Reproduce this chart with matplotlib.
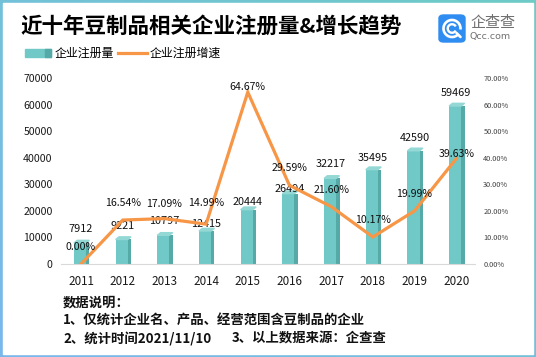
"""近十年豆制品相关企业注册量 & 增长趋势 — 柱状 + 折线双轴图"""
import matplotlib

matplotlib.use("Agg")
import matplotlib.pyplot as plt
import numpy as np
from matplotlib.patches import FancyBboxPatch, Polygon, Rectangle, Arc

plt.rcParams["font.family"] = ["Noto Sans CJK SC", "DejaVu Sans"]
plt.rcParams["axes.unicode_minus"] = False

# ---- 数据 ----
years = ["2011", "2012", "2013", "2014", "2015", "2016", "2017", "2018", "2019", "2020"]
registrations = [7912, 9221, 10797, 12415, 20444, 26494, 32217, 35495, 42590, 59469]
growth_pct = [0.00, 16.54, 17.09, 14.99, 64.67, 29.59, 21.60, 10.17, 19.99, 39.63]

# 标签相对位置（像素，向上）
bar_label_off = [14, 13, 14, 7, 8, 5, 14, 12, 13, 13]
pct_label_off = [17, 17, 15, 21, 5, 17, 17, 17, 17, 5]

BAR_FRONT = "#70c9c6"
BAR_SIDE = "#55a9a6"
BAR_TOP = "#93d8d5"
LINE = "#f79646"

W, H = 536, 357
fig = plt.figure(figsize=(W / 100, H / 100), dpi=100)

# 渐变边框
bg = fig.add_axes([0, 0, 1, 1])
bg.set_axis_off()
gx, gy = np.meshgrid(np.linspace(0, 1, 64), np.linspace(0, 1, 64))
t = np.clip((gx + gy) / 2, 0, 1)
c0 = np.array([0x7a, 0xb8, 0xec]) / 255  # 左下 蓝
c1 = np.array([0x6d, 0xcb, 0xc6]) / 255  # 右上 青
grad = c0[None, None, :] * (1 - t[..., None]) + c1[None, None, :] * t[..., None]
bg.imshow(grad, extent=[0, 1, 0, 1], origin="lower", aspect="auto")
bx, by = 3 / W, 3 / H
bg.add_patch(Rectangle((bx, by), 1 - 2 * bx, 1 - 2 * by, color="white", zorder=2))
bg.set_xlim(0, 1)
bg.set_ylim(0, 1)

# 主图
ax = fig.add_axes([61 / W, 93 / H, 414 / W, 186 / H])
ax.set_facecolor("none")
x = np.arange(len(years))
front_w = 0.29
side_w = 0.08
front_l = x - 0.17
ax.bar(front_l, registrations, width=front_w, align="edge", color=BAR_FRONT, zorder=2)
ax.bar(front_l + front_w, registrations, width=side_w, align="edge", color=BAR_SIDE, zorder=2)
depth = 1000
for xi, v in zip(front_l, registrations):
    ax.add_patch(Polygon(
        [(xi, v), (xi + front_w, v), (xi + front_w + side_w, v + depth), (xi + side_w, v + depth)],
        closed=True, color=BAR_TOP, zorder=2,
    ))

ax.set_ylim(0, 70000)
ax.set_xlim(-0.48, 9.45)
ax.set_yticks(np.arange(0, 70001, 10000))
ax.set_xticks(x)
ax.set_xticklabels(years)
ax.tick_params(axis="y", length=0, pad=6, labelsize=7.6, labelcolor="#1a1a1a")
ax.tick_params(axis="x", length=0, pad=8, labelsize=8.4, labelcolor="#1a1a1a")
for s in ["top", "right", "left"]:
    ax.spines[s].set_visible(False)
ax.spines["bottom"].set_color("#d9d9d9")
ax.spines["bottom"].set_linewidth(0.8)

for xi, v, off in zip(x, registrations, bar_label_off):
    ax.annotate(f"{v}", (xi, v), xytext=(0, off * 0.72), textcoords="offset points",
                ha="center", va="center", fontsize=7.8, color="#111111", zorder=5)

# 右轴 增速
ax2 = ax.twinx()
ax2.plot(x, growth_pct, color=LINE, linewidth=2.3, solid_joinstyle="miter", zorder=3)
ax2.set_ylim(0, 70)
ax2.set_yticks(np.arange(0, 71, 10))
ax2.set_yticklabels([f"{v:.2f}%" for v in np.arange(0, 71, 10)])
ax2.tick_params(axis="y", length=0, pad=6, labelsize=5.3, labelcolor="#404040")
for s in ["top", "right", "left", "bottom"]:
    ax2.spines[s].set_visible(False)
for xi, v, off in zip(x, growth_pct, pct_label_off):
    ax2.annotate(f"{v:.2f}%", (xi, v), xytext=(0, off * 0.72), textcoords="offset points",
                 ha="center", va="center", fontsize=7.6, color="#111111", zorder=5)

# 标题
fig.text(20 / W, 1 - 26.5 / H, "近十年豆制品相关企业注册量&增长趋势", fontsize=15.5,
         fontweight="bold", ha="left", va="center", color="#000000")

# 图例
bg.add_patch(Rectangle((24.5 / W, 1 - 56.5 / H), 26.5 / W, 7 / H, color=BAR_FRONT, zorder=3))
bg.add_patch(Rectangle((45 / W, 1 - 56.5 / H), 6 / W, 7 / H, color=BAR_SIDE, zorder=3))
fig.text(55 / W, 1 - 53 / H, "企业注册量", fontsize=8.6, ha="left", va="center")
bg.plot([118 / W, 147 / W], [1 - 53 / H, 1 - 53 / H], color=LINE, linewidth=2.3, zorder=3)
fig.text(150 / W, 1 - 53 / H, "企业注册增速", fontsize=8.6, ha="left", va="center")

# logo：蓝色圆角方块 + 白色 Q/C 圆环
bg.add_patch(FancyBboxPatch((439 / W, 1 - 42 / H), 26 / W, 27 / H,
                            boxstyle="round,pad=0,rounding_size=0.009",
                            color="#2f8cf0", zorder=3))
cx, cy = 452 / W, 1 - 28.5 / H
bg.add_patch(Arc((cx, cy), 17 / W, 17 / H, theta1=-10, theta2=300, color="white",
                 linewidth=1.9, zorder=4))
bg.add_patch(Arc((cx, cy), 8.5 / W, 8.5 / H, theta1=40, theta2=320, color="white",
                 linewidth=1.7, zorder=4))
bg.plot([cx + 4.5 / W, cx + 8.5 / W], [cy - 4.5 / H, cy - 8.5 / H], color="white",
        linewidth=1.9, zorder=4, solid_capstyle="round")
fig.text(470 / W, 1 - 23 / H, "企查查", fontsize=10.8, color="#707070", ha="left", va="center")
fig.text(470 / W, 1 - 37 / H, "Qcc.com", fontsize=6.8, color="#707070", ha="left", va="center",
         family=["DejaVu Sans"])

# 说明
notes = [
    (63, 303, "数据说明："),
    (63, 321, "1、仅统计企业名、产品、经营范围含豆制品的企业"),
    (63, 339, "2、统计时间2021/11/10"),
    (232, 339, "3、以上数据来源：企查查"),
]
for nx, ny, txt in notes:
    fig.text(nx / W, 1 - ny / H, txt, fontsize=9.6, fontweight="bold", ha="left", va="center",
             color="#111111")

fig.savefig("out.png", dpi=100)
